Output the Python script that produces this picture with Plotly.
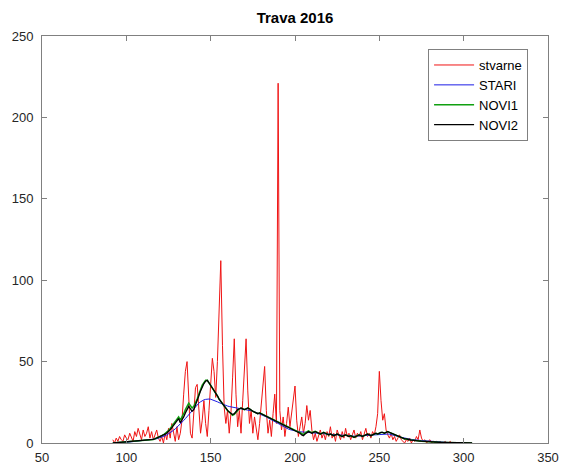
import plotly.graph_objects as go

# Day of year for each daily value
days_obs = list(range(92, 299))
days_stari = list(range(92, 301))
days_novi = list(range(92, 306))

# Measured grass pollen counts (stvarne), days 92..298
stvarne = [
    2, 0, 3, 1, 4, 2, 1, 5, 3, 2,
    6, 3, 1, 7, 4, 9, 5, 2, 8, 4,
    6, 10, 3, 7, 2, 5, 8, 3, 1, 4,
    0, 6, 2, 9, 3, 12, 5, 1, 10, 2,
    6, 14, 30, 44, 50, 26, 6, 3, 16, 34,
    36, 20, 6, 14, 26, 12, 4, 20, 40, 52,
    44, 28, 50, 85, 112, 60, 22, 12, 20, 6,
    18, 40, 64, 30, 10, 20, 6, 26, 44, 64,
    32, 12, 20, 6, 16, 8, 2, 12, 24, 36,
    47, 20, 6, 14, 4, 18, 30, 12, 221, 20,
    8, 16, 4, 12, 22, 10, 18, 28, 35, 14,
    4, 10, 16, 6, 12, 23, 14, 20, 8, 2,
    6, 1, 4, 8, 3, 6, 2, 7, 4, 10,
    3, 6, 1, 8, 5, 2, 7, 3, 9, 4,
    6, 2, 5, 8, 3, 6, 4, 7, 2, 5,
    9, 4, 6, 3, 7, 5, 10, 18, 44, 26,
    14, 18, 8, 5, 3, 6, 2, 4, 1, 3,
    5, 2, 1, 0, 2, 1, 3, 0, 2, 1,
    4, 2, 8, 3, 1, 2, 0, 1, 2, 0,
    1, 0, 1, 0, 1, 0, 0, 1, 0, 0,
    1, 0, 0, 0, 0, 0, 0,
]

# Old model forecast (STARI), days 92..300
stari = [
    0, 0, 0.1, 0.1, 0.2, 0.2, 0.3, 0.3, 0.4, 0.5,
    0.6, 0.7, 0.8, 0.9, 1.0, 1.1, 1.2, 1.3, 1.4, 1.5,
    1.6, 1.7, 1.9, 2.0, 2.2, 2.4, 2.6, 2.9, 3.2, 3.6,
    4.0, 4.5, 5.0, 5.6, 6.3, 7.0, 7.8, 8.7, 9.6, 10.6,
    11.6, 12.7, 13.8, 15.0, 16.2, 17.5, 18.8, 20.0, 21.2, 22.4,
    23.5, 24.5, 25.3, 26.0, 26.5, 26.8, 27.0, 27.0, 26.9, 26.6,
    26.2, 25.8, 25.3, 24.8, 24.3, 23.8, 23.4, 23.0, 22.7, 22.4,
    22.2, 22.0, 21.8, 21.7, 21.6, 21.5, 21.4, 21.2, 21.0, 20.8,
    20.5, 20.2, 19.9, 19.6, 19.2, 18.8, 18.4, 18.0, 17.5, 17.0,
    16.5, 16.0, 15.4, 14.8, 14.2, 13.6, 13.0, 12.4, 11.8, 11.2,
    10.6, 10.0, 9.5, 9.0, 8.6, 8.2, 7.9, 7.6, 7.4, 7.2,
    7.0, 6.9, 6.8, 6.7, 6.6, 6.5, 6.5, 6.4, 6.4, 6.3,
    6.2, 6.1, 6.0, 5.9, 5.8, 5.7, 5.6, 5.5, 5.4, 5.3,
    5.2, 5.1, 5.0, 4.9, 4.8, 4.7, 4.6, 4.5, 4.4, 4.4,
    4.3, 4.3, 4.2, 4.2, 4.2, 4.2, 4.3, 4.3, 4.4, 4.5,
    4.6, 4.7, 4.8, 4.9, 5.0, 5.1, 5.2, 5.3, 5.4, 5.5,
    5.6, 5.6, 5.6, 5.5, 5.4, 5.2, 5.0, 4.7, 4.4, 4.1,
    3.8, 3.5, 3.2, 3.0, 2.8, 2.6, 2.4, 2.2, 2.0, 1.9,
    1.8, 1.7, 1.6, 1.5, 1.4, 1.3, 1.2, 1.1, 1.0, 0.9,
    0.8, 0.7, 0.6, 0.5, 0.5, 0.4, 0.4, 0.3, 0.3, 0.2,
    0.2, 0.2, 0.1, 0.1, 0.1, 0.1, 0.0, 0.0, 0.0,
]

# New model forecast, variant 1 (NOVI1), days 92..305
novi1 = [
    0, 0.1, 0.2, 0.1, 0.3, 0.4, 0.3, 0.5, 0.6, 0.5,
    0.7, 0.9, 0.8, 1.0, 1.2, 1.1, 1.3, 1.5, 1.4, 1.6,
    1.8, 1.7, 2.0, 2.3, 2.2, 2.6, 3.0, 3.4, 3.9, 4.5,
    5.1, 5.8, 6.7, 7.7, 9.0, 10.5, 12.0, 13.4, 14.6, 16.0,
    14.0, 15.8, 18.0, 20.5, 23.0, 24.5, 23.0, 21.5, 22.5, 24.5,
    27.0, 30.0, 33.0, 35.5, 37.0, 38.5, 38.5, 37.0, 35.5, 34.0,
    32.0, 30.5, 29.0, 27.0, 25.5, 24.0, 22.5, 21.0, 20.0, 19.0,
    18.0, 17.0, 17.5, 19.0, 20.0, 21.0, 21.5, 21.0, 20.5, 21.0,
    21.5, 21.0, 20.0, 19.5, 19.0, 18.5, 18.0, 18.5, 18.0, 17.5,
    17.0, 16.5, 16.0, 15.0, 14.5, 14.0, 13.5, 13.0, 12.5, 12.0,
    11.5, 11.0, 10.5, 10.0, 9.5, 9.0, 8.5, 8.0, 7.5, 7.0,
    6.8, 6.5, 5.6, 5.2, 6.2, 7.0, 7.4, 6.8, 6.3, 6.8,
    7.2, 6.6, 6.0, 5.5, 6.0, 6.5, 6.0, 5.5, 5.0, 5.5,
    5.0, 4.5, 5.0, 5.5, 5.0, 4.5, 4.0, 4.5, 5.0, 4.5,
    4.0, 4.5, 4.0, 3.5, 4.0, 4.5, 5.0, 4.5, 4.0, 4.5,
    5.0, 5.5, 5.0, 4.5, 5.0, 5.5, 6.0, 5.5, 6.0, 6.5,
    6.5, 6.0, 6.5, 7.0, 6.5, 6.0, 5.5, 5.0, 4.5, 4.0,
    3.5, 3.0, 3.0, 2.5, 2.5, 2.0, 2.0, 1.8, 1.6, 1.5,
    1.4, 1.3, 1.2, 1.1, 1.0, 0.9, 0.8, 0.8, 0.7, 0.6,
    0.6, 0.5, 0.5, 0.4, 0.4, 0.3, 0.3, 0.3, 0.2, 0.2,
    0.2, 0.2, 0.1, 0.1, 0.1, 0.1, 0.1, 0.1, 0.1, 0.1,
    0.1, 0.1, 0, 0,
]

# New model forecast, variant 2 (NOVI2), days 92..305
novi2 = [
    0, 0.1, 0.2, 0.1, 0.3, 0.4, 0.3, 0.5, 0.6, 0.5,
    0.7, 0.9, 0.8, 1.0, 1.2, 1.1, 1.3, 1.5, 1.4, 1.6,
    1.8, 1.7, 2.0, 2.3, 2.2, 2.6, 3.0, 3.4, 3.8, 4.3,
    4.8, 5.4, 6.2, 7.0, 8.2, 9.5, 11.0, 12.2, 13.4, 15.0,
    12.5, 14.0, 16.0, 18.5, 21.0, 22.5, 21.0, 19.5, 20.5, 23.0,
    26.0, 29.0, 32.0, 34.5, 36.5, 38.0, 38.5, 37.0, 35.5, 34.0,
    32.0, 30.5, 29.0, 27.0, 25.5, 24.0, 22.5, 21.0, 20.0, 19.0,
    18.5, 17.5, 18.0, 19.5, 20.5, 21.0, 21.5, 21.0, 20.5, 21.0,
    21.5, 21.0, 20.0, 19.5, 19.0, 18.5, 18.0, 18.5, 18.0, 17.5,
    17.0, 16.5, 16.0, 15.0, 14.5, 14.0, 13.5, 13.0, 12.5, 12.0,
    11.5, 11.0, 10.5, 10.0, 9.5, 9.0, 8.5, 8.0, 7.5, 7.0,
    6.5, 6.0, 5.0, 4.5, 5.5, 6.5, 7.0, 6.5, 6.0, 6.5,
    7.0, 6.5, 6.0, 5.5, 6.0, 6.5, 6.0, 5.5, 5.0, 5.5,
    5.0, 4.5, 5.0, 5.5, 5.0, 4.5, 4.0, 4.5, 5.0, 4.5,
    4.0, 4.5, 4.0, 3.5, 4.0, 4.5, 5.0, 4.5, 4.0, 4.5,
    5.0, 5.5, 5.0, 4.5, 5.0, 5.5, 6.0, 5.5, 6.0, 6.5,
    6.5, 6.0, 6.5, 7.0, 6.5, 6.0, 5.5, 5.0, 4.5, 4.0,
    3.5, 3.0, 3.0, 2.5, 2.5, 2.0, 2.0, 1.8, 1.6, 1.5,
    1.4, 1.3, 1.2, 1.1, 1.0, 0.9, 0.8, 0.8, 0.7, 0.6,
    0.6, 0.5, 0.5, 0.4, 0.4, 0.3, 0.3, 0.3, 0.2, 0.2,
    0.2, 0.2, 0.1, 0.1, 0.1, 0.1, 0.1, 0.1, 0.1, 0.1,
    0.1, 0.1, 0, 0,
]

x_ticks = [50, 100, 150, 200, 250, 300, 350]
y_ticks = [0, 50, 100, 150, 200, 250]

FONT = "Liberation Sans, Arial, sans-serif"
AXIS_COLOR = "#808080"

fig = go.Figure()
fig.add_trace(go.Scatter(x=days_obs, y=stvarne, name="stvarne", mode="lines",
                         line=dict(color="#f01414", width=1)))
fig.add_trace(go.Scatter(x=days_stari, y=stari, name="STARI", mode="lines",
                         line=dict(color="#1c1ce6", width=1)))
fig.add_trace(go.Scatter(x=days_novi, y=novi1, name="NOVI1", mode="lines",
                         line=dict(color="#10a010", width=1.5)))
fig.add_trace(go.Scatter(x=days_novi, y=novi2, name="NOVI2", mode="lines",
                         line=dict(color="#000000", width=1.3)))

axis_common = dict(
    showline=True, linecolor=AXIS_COLOR, linewidth=1, mirror="ticks",
    ticks="inside", ticklen=5, tickcolor=AXIS_COLOR, showgrid=False,
    zeroline=False, automargin=False,
    tickfont=dict(family=FONT, size=13, color="#262626"),
)

fig.update_layout(
    width=572, height=464,
    margin=dict(l=42, r=24, t=36, b=21),
    paper_bgcolor="white", plot_bgcolor="white",
    title=dict(text="<b>Trava 2016</b>", x=0.5, xref="paper", xanchor="center",
               y=0.961, yanchor="middle",
               font=dict(family=FONT, size=15, color="#000000")),
    xaxis=dict(range=[50, 350], tickvals=x_ticks, ticklabelstandoff=2,
               **axis_common),
    yaxis=dict(range=[0, 250], tickvals=y_ticks, ticklabelstandoff=5,
               **axis_common),
    legend=dict(x=0.763, y=0.968, xanchor="left", yanchor="top",
                bgcolor="white", bordercolor=AXIS_COLOR, borderwidth=1,
                font=dict(family=FONT, size=13, color="#000000"),
                tracegroupgap=0, itemwidth=40),
    showlegend=True,
)

fig.write_html("out.html")
